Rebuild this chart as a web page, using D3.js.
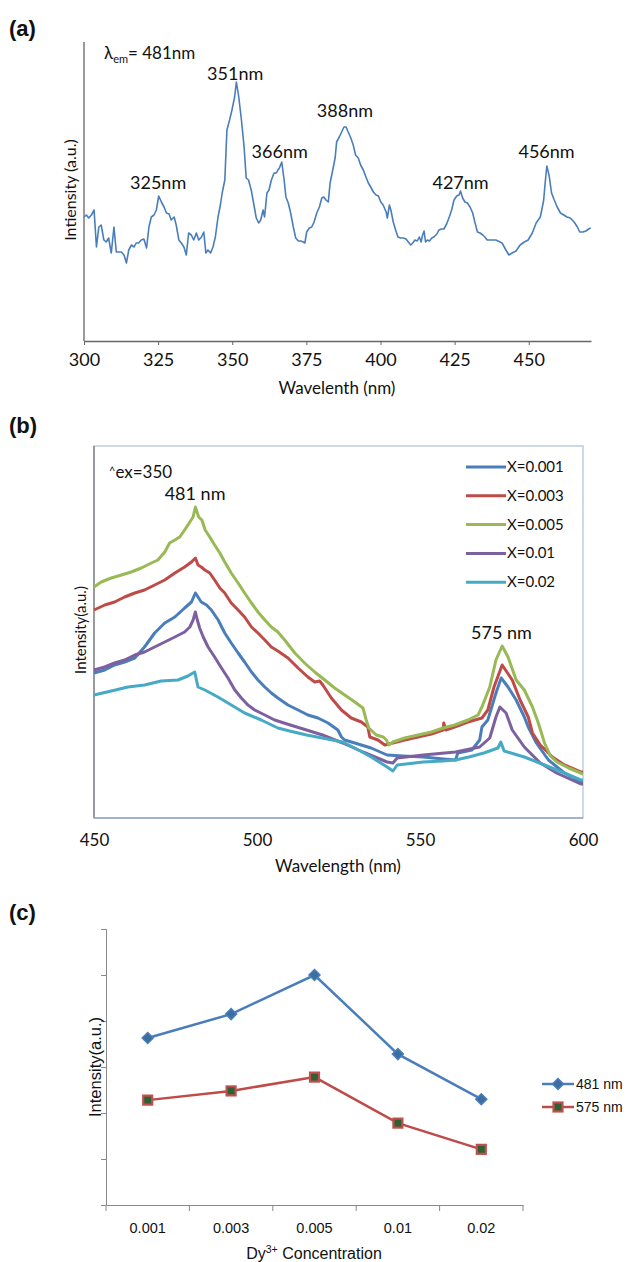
<!DOCTYPE html>
<html><head><meta charset="utf-8">
<script src="https://cdn.jsdelivr.net/npm/d3@7/dist/d3.min.js"></script>
<style>body{margin:0;background:#fff}svg{display:block}</style>
</head><body>
<svg id="c" width="629" height="1262"></svg>
<script>
// ---------- Panel (a): excitation spectrum (wavelength nm, intensity a.u.) ----------
const aSpectrum = [
[300.0,124],[300.8,126],[301.6,123],[302.5,126],[303.4,131],[304.2,94],[305.0,114],[305.8,116],[306.7,101],[307.5,99],
[308.3,103],[309.2,88],[310.1,114],[310.9,89],[311.7,89],[312.6,89],[313.5,86],[314.3,78],[315.1,91],[316.0,96],
[316.9,94],[317.6,98],[318.4,98],[319.3,101],[320.2,102],[321.1,93],[321.9,114],[322.7,124],[323.6,126],[324.4,131],
[325.2,145],[326.1,139],[327.0,134],[327.8,128],[328.7,127],[329.4,121],[330.4,124],[331.1,116],[332.0,101],[332.8,98],
[333.7,94],[334.5,86],[335.3,108],[336.2,106],[337.0,101],[337.9,108],[338.7,101],[339.6,104],[340.4,109],[341.1,88],
[341.8,91],[342.7,88],[343.5,94],[344.3,104],[345.2,124],[346.0,136],[346.6,148],[347.5,161],[348.2,211],[349.1,221],
[349.9,231],[350.8,244],[351.4,259],[352.2,244],[353.1,221],[354.0,194],[354.7,163],[355.5,161],[356.4,151],[357.2,138],
[358.1,123],[358.9,118],[359.6,121],[360.4,131],[360.9,124],[361.7,148],[362.4,151],[363.2,161],[364.1,168],[364.9,168],
[365.4,171],[365.9,173],[366.7,179],[367.5,161],[368.1,144],[368.9,138],[369.7,128],[370.6,114],[371.4,103],[372.3,100],
[373.1,100],[374.0,99],[374.5,98],[375.1,109],[376.0,113],[376.8,114],[377.6,119],[378.5,128],[379.4,134],[380.2,143],
[380.9,144],[381.6,141],[382.4,139],[383.0,158],[383.9,171],[384.7,183],[385.2,199],[386.1,204],[386.9,209],[387.7,214],
[388.4,214],[389.1,209],[390.0,203],[390.8,196],[391.6,186],[392.5,183],[393.3,176],[394.2,171],[395.1,164],[395.9,158],
[396.7,154],[397.6,149],[398.5,146],[399.3,145],[400.1,139],[400.9,136],[401.9,129],[402.3,123],[403.0,136],[403.5,131],
[404.3,119],[405.1,111],[405.9,104],[406.8,103],[407.7,103],[408.6,102],[409.4,99],[410.2,96],[410.9,98],[411.6,101],
[412.4,100],[413.1,104],[413.7,99],[414.2,106],[414.7,110],[415.2,99],[415.8,101],[416.5,100],[417.3,103],[418.0,104],
[419.0,107],[419.7,111],[420.6,112],[421.4,112],[422.3,117],[423.2,124],[424.0,131],[424.8,141],[425.7,145],[426.5,146],
[427.0,150],[427.7,143],[428.5,139],[429.3,138],[430.2,134],[431.1,128],[431.9,118],[432.7,109],[433.6,108],[434.5,106],
[435.2,104],[436.0,101],[436.9,101],[438.9,101],[441.0,98],[442.3,91],[443.3,86],[444.4,88],[445.7,90],[447.1,96],
[448.5,99],[449.8,101],[451.2,108],[452.5,118],[453.9,124],[455.0,140],[455.6,160],[456.1,175],[456.9,165],[457.7,148],
[458.6,141],[459.6,134],[460.7,128],[461.8,126],[462.9,124],[464.0,123],[465.3,119],[466.4,114],[467.2,109],[468.3,109],
[469.3,110],[470.2,112],[470.9,113]
];
const aTicks = [300,325,350,375,400,425,450];
const aPeaks = [["325nm",325],["351nm",351],["366nm",366],["388nm",388],["427nm",427],["456nm",456]];

// ---------- Panel (b): emission spectra for each Dy concentration ----------
const bSeriesNames = ["X=0.001","X=0.003","X=0.005","X=0.01","X=0.02"];
const bX0001 = [[450,145],[453.3,148],[456.3,153],[459.4,156],[462.5,160],[465.5,171],[468.6,185],[471.7,195],[474.8,201],[477.8,210],[479.9,216],[481.1,225],[481.9,221],[482.9,216],[484.5,213],[486,208],[488.1,198],[490.1,185],[492.1,175],[494.2,165],[496.2,156],[498.3,146],[500.3,138],[502.4,131],[504.4,125],[506.4,120],[509.5,113],[512.6,108],[515.6,103],[518.7,100],[521.8,95],[524.8,88],[525.9,81],[526.9,78],[530,75],[535,70],[539.9,63],[544.8,62],[551,61],[557.2,59],[560.9,58],[561.6,65],[565.9,68],[568.3,78],[569,91],[570.8,98],[573.3,125],[574.9,140],[577,131],[579.5,118],[582,101],[583.2,91],[585.7,75],[589.4,58],[594.3,45],[599.3,36],[600,36]];
const bX0003 = [[450,208],[453.3,213],[456.3,216],[459.4,221],[462.5,225],[465.5,228],[468.6,233],[471.7,238],[474.8,245],[477.8,251],[479.9,256],[481.1,260],[481.9,253],[482.9,251],[484,248],[485.5,245],[487,238],[488.6,230],[490.1,225],[492.1,215],[494.2,208],[496.2,201],[498.3,191],[500.3,185],[502.4,178],[504.4,171],[506.4,167],[509.5,160],[512.6,150],[515.6,141],[517.7,136],[519.2,137],[520.2,133],[522.8,120],[525.9,108],[528.9,100],[532,96],[534,91],[534.6,81],[537.1,78],[539.2,73],[541.7,75],[545.3,78],[549.4,81],[553.5,84],[557.1,88],[557.3,95],[557.9,88],[560.6,91],[564.7,96],[569,100],[570.8,108],[572.7,131],[575.2,153],[578.3,138],[580.7,118],[583.2,101],[584.5,85],[586.9,73],[590.6,61],[594.3,53],[599.3,46],[600,46]];
const bX0005 = [[450,231],[452.2,236],[455.3,240],[458.4,243],[461.4,246],[464.5,250],[467.6,255],[469.6,258],[471.7,266],[473.2,275],[474.8,278],[476.3,281],[477.8,288],[479.4,296],[480.4,301],[481.1,311],[481.6,306],[482.1,301],[483.1,298],[484.1,288],[485.5,281],[487,273],[488.6,265],[490.1,256],[492.1,245],[494.2,235],[496.2,225],[498.3,215],[500.3,206],[502.4,198],[504.4,191],[506.4,186],[508.5,178],[511.6,165],[514.6,155],[517.7,146],[520.8,138],[523.8,130],[526.9,123],[530,116],[532.5,110],[533.5,98],[534.3,90],[536.6,83],[538.7,81],[539.7,78],[540.4,73],[541.7,76],[545.3,80],[549.4,83],[553.5,86],[557.1,90],[560.6,93],[564.7,98],[567.8,103],[569,111],[571.4,131],[573.3,158],[575.2,172],[577,161],[579.5,138],[582,128],[584.5,111],[586.3,95],[588.2,75],[590,62],[592,56],[595.6,50],[600,44]];
const bX001 = [[450,148],[453.3,151],[456.3,155],[459.4,158],[462.5,163],[465.5,166],[468.6,171],[471.7,176],[474.8,181],[477.8,186],[479.4,191],[480.4,198],[481.1,206],[481.7,198],[482.4,190],[483.5,181],[485,171],[487,161],[489.1,150],[491.1,140],[493.2,128],[495.2,120],[497.2,113],[499.3,108],[502.4,103],[505.4,98],[510.2,93],[515.2,88],[520.1,83],[526.3,75],[532.5,66],[539.9,56],[541.7,55],[543,60],[551,63],[560.9,66],[568.3,71],[571.4,80],[573.3,101],[574.5,111],[576.4,105],[578.3,88],[582,71],[586.9,55],[591.9,45],[599.3,34],[600,34]];
const bX002 = [[450,123],[455.3,127],[460.4,131],[465.5,133],[470.6,137],[475.8,138],[478.8,142],[480.9,146],[481.9,131],[484,128],[488,121],[491.1,115],[496.2,105],[501.3,98],[506.4,90],[510,87],[515.2,83],[520,80],[526.3,76],[530,70],[535,61],[539.9,51],[541.7,47],[543,53],[551,56],[557,57],[560.9,58],[565,61],[569.6,65],[573.9,70],[574.8,76],[575.8,67],[582,61],[588.2,53],[594.3,45],[599.3,38],[600,38]];
const bTicks = [450,500,550,600];

// ---------- Panel (c): peak intensity vs concentration ----------
const cCategories = ["0.001","0.003","0.005","0.01","0.02"];
const c481 = [3.63,4.15,5.0,3.28,2.30];
const c575 = [2.28,2.48,2.78,1.78,1.21];
const cYTicks = [0,1,2,3,4,5,6];
const cLegend = ["481 nm","575 nm"];

const svg = d3.select("#c");
const LATO = "Lato, 'Open Sans', sans-serif";
const ARIAL = "'Liberation Sans', Arial, sans-serif";

function panelLetter(t, y){
  svg.append("text").attr("x",9).attr("y",y).attr("font-family",ARIAL)
    .attr("font-weight","bold").attr("font-size",22).attr("fill","#111").text(t);
}

// ===== Panel (a) =====
panelLetter("(a)", 36);
const xA = d3.scaleLinear([300, 471], [84, 591]);
const yA = d3.scaleLinear([0, 299], [341, 42]);
const gA = svg.append("g");
const axA = gA.append("g").attr("transform","translate(0,341)")
  .call(d3.axisBottom(xA).tickValues(aTicks).tickSize(4).tickSizeOuter(0));
axA.select(".domain").attr("stroke","#666").attr("stroke-width",1.3);
axA.selectAll(".tick line").attr("stroke","#666");
axA.selectAll(".tick text").attr("y",25).attr("dy",0).attr("font-family",LATO)
  .attr("font-size",18).attr("fill","#111");
gA.append("line").attr("x1",xA(300)).attr("x2",xA(300)).attr("y1",yA(299)).attr("y2",yA(0))
  .attr("stroke","#666").attr("stroke-width",1.3);
gA.append("path").datum(aSpectrum)
  .attr("d", d3.line().x(d=>xA(d[0])).y(d=>yA(d[1])))
  .attr("fill","none").attr("stroke","#4a7ebb").attr("stroke-width",1.6).attr("stroke-linejoin","round");
gA.append("text").attr("x",337).attr("y",394).attr("text-anchor","middle")
  .attr("font-family",LATO).attr("font-size",17).attr("fill","#111").text("Wavelenth (nm)");
gA.append("text").attr("transform","translate(76,190) rotate(-90)").attr("text-anchor","middle")
  .attr("font-family",LATO).attr("font-size",16).attr("fill","#111").text("Intiensity (a.u.)");
const lam = gA.append("text").attr("x",104).attr("y",59).attr("font-family",LATO)
  .attr("font-size",17).attr("fill","#111");
lam.append("tspan").text("λ");
lam.append("tspan").attr("font-size",11).attr("dy",4).text("em");
lam.append("tspan").attr("dy",-4).text("= 481nm");
const peakLabelY = {"325nm":189,"351nm":80,"366nm":158,"388nm":117,"427nm":189,"456nm":158};
gA.selectAll("text.pk").data(aPeaks).join("text").attr("class","pk")
  .attr("x",d=>xA(d[1])).attr("y",d=>peakLabelY[d[0]]).attr("text-anchor","middle")
  .attr("font-family",LATO).attr("font-size",18).attr("fill","#111").text(d=>d[0]);

// ===== Panel (b) =====
panelLetter("(b)", 433);
const xB = d3.scaleLinear([450, 600], [94, 583]);
const yB = d3.scaleLinear([0, 372], [818, 446]);
const gB = svg.append("g");
gB.append("rect").attr("x",xB(450)).attr("y",yB(372)).attr("width",xB(600)-xB(450)).attr("height",yB(0)-yB(372))
  .attr("fill","none").attr("stroke","#b4c6d8").attr("stroke-width",1.3);
gB.append("line").attr("x1",xB(450)).attr("x2",xB(450)).attr("y1",yB(372)).attr("y2",yB(0))
  .attr("stroke","#7a7a7a").attr("stroke-width",1.3);
gB.append("line").attr("x1",xB(450)).attr("x2",xB(600)).attr("y1",yB(0)).attr("y2",yB(0))
  .attr("stroke","#8fa6c0").attr("stroke-width",1.6);
const axB = gB.append("g").attr("transform","translate(0,818)")
  .call(d3.axisBottom(xB).tickValues(bTicks).tickSize(0).tickSizeOuter(0));
axB.select(".domain").remove();
axB.selectAll(".tick text").attr("y",28).attr("dy",0).attr("font-family",LATO)
  .attr("font-size",17).attr("fill","#111");
const bColors = ["#4a7ebb","#be4b48","#98b954","#7d60a0","#46aac5"];
const bData = [bX0001,bX0003,bX0005,bX001,bX002];
const lineB = d3.line().x(d=>xB(d[0])).y(d=>yB(d[1]));
gB.selectAll("path.s").data(bData).join("path").attr("class","s")
  .attr("d",lineB).attr("fill","none").attr("stroke",(d,i)=>bColors[i])
  .attr("stroke-width",3).attr("stroke-linejoin","round");
const legB = gB.selectAll("g.leg").data(bSeriesNames).join("g").attr("class","leg")
  .attr("transform",(d,i)=>`translate(0,${467+i*28.8})`);
legB.append("line").attr("x1",466).attr("x2",506).attr("stroke",(d,i)=>bColors[i]).attr("stroke-width",3);
legB.append("text").attr("x",507).attr("y",5).attr("font-family",LATO).attr("font-size",15)
  .attr("fill","#111").text(d=>d);
const exT = gB.append("text").attr("x",109).attr("y",478).attr("font-family",LATO).attr("font-size",17).attr("fill","#111");
exT.append("tspan").attr("font-size",11).attr("dy",-3).text("^");
exT.append("tspan").attr("dy",3).text("ex=350");
gB.append("text").attr("x",xB(481)).attr("y",500).attr("text-anchor","middle").attr("font-family",LATO)
  .attr("font-size",18).attr("fill","#111").text("481 nm");
gB.append("text").attr("x",xB(575)).attr("y",639).attr("text-anchor","middle").attr("font-family",LATO)
  .attr("font-size",18).attr("fill","#111").text("575 nm");
gB.append("text").attr("x",338).attr("y",872).attr("text-anchor","middle").attr("font-family",LATO)
  .attr("font-size",17).attr("fill","#111").text("Wavelength (nm)");
gB.append("text").attr("transform","translate(86,630) rotate(-90)").attr("text-anchor","middle")
  .attr("font-family",LATO).attr("font-size",15).attr("fill","#111").text("Intensity(a.u.)");

// ===== Panel (c) =====
panelLetter("(c)", 920);
const xC = d3.scaleBand(cCategories, [106, 523]);
const yC = d3.scaleLinear([0, 6], [1205, 929]);
const gC = svg.append("g");
const axCy = gC.append("g").attr("transform","translate(106,0)")
  .call(d3.axisLeft(yC).tickValues(cYTicks).tickSize(5).tickFormat(""));
axCy.select(".domain").attr("stroke","#8a8a8a");
axCy.selectAll(".tick line").attr("stroke","#8a8a8a");
const axCx = gC.append("g").attr("transform","translate(0,1205)")
  .call(d3.axisBottom(xC).tickSize(0).tickSizeOuter(0));
axCx.select(".domain").attr("stroke","#8a8a8a");
axCx.selectAll(".tick text").attr("y",28).attr("dy",0).attr("font-family",ARIAL)
  .attr("font-size",14.5).attr("fill","#111");
const bounds = cCategories.map(c=>xC(c)).concat([xC.range()[1]]);
gC.selectAll("line.xt").data(bounds).join("line").attr("class","xt")
  .attr("x1",d=>d).attr("x2",d=>d).attr("y1",1205).attr("y2",1211).attr("stroke","#8a8a8a");
const cx = c => xC(c) + xC.bandwidth()/2;
const lineC = d3.line().x((d,i)=>cx(cCategories[i])).y(d=>yC(d));
gC.append("path").datum(c481).attr("d",lineC).attr("fill","none").attr("stroke","#4a7ebb").attr("stroke-width",2.5);
gC.append("path").datum(c575).attr("d",lineC).attr("fill","none").attr("stroke","#be4b48").attr("stroke-width",2.5);
const diamond = "M0,-5.5L5.5,0L0,5.5L-5.5,0Z";
gC.selectAll("path.dm").data(c481).join("path").attr("class","dm").attr("d",diamond)
  .attr("transform",(d,i)=>`translate(${cx(cCategories[i])},${yC(d)})`)
  .attr("fill","#3c6e9e").attr("stroke","#4a7ebb").attr("stroke-width",1.5);
gC.selectAll("rect.sq").data(c575).join("rect").attr("class","sq")
  .attr("x",(d,i)=>cx(cCategories[i])-4.5).attr("y",d=>yC(d)-4.5).attr("width",9).attr("height",9)
  .attr("fill","#2f5f34").attr("stroke","#c0504d").attr("stroke-width",2.2);
// legend
const legC = gC.selectAll("g.legc").data(cLegend).join("g").attr("class","legc")
  .attr("transform",(d,i)=>`translate(0,${1084+i*23})`);
legC.append("line").attr("x1",542).attr("x2",574).attr("stroke",(d,i)=>i?"#be4b48":"#4a7ebb").attr("stroke-width",2.5);
legC.filter((d,i)=>i===0).append("path").attr("d",diamond).attr("transform","translate(558,0)")
  .attr("fill","#3c6e9e").attr("stroke","#4a7ebb").attr("stroke-width",1.5);
legC.filter((d,i)=>i===1).append("rect").attr("x",553.5).attr("y",-4.5).attr("width",9).attr("height",9)
  .attr("fill","#2f5f34").attr("stroke","#c0504d").attr("stroke-width",2.2);
legC.append("text").attr("x",576).attr("y",5).attr("font-family",ARIAL).attr("font-size",14)
  .attr("fill","#111").text(d=>d);
const dyT = gC.append("text").attr("x",314).attr("y",1259).attr("text-anchor","middle").attr("font-family",ARIAL)
  .attr("font-size",16).attr("fill","#111");
dyT.append("tspan").text("Dy");
dyT.append("tspan").attr("font-size",10.5).attr("dy",-6).text("3+");
dyT.append("tspan").attr("dy",6).text(" Concentration");
gC.append("text").attr("transform","translate(101,1067) rotate(-90)").attr("text-anchor","middle")
  .attr("font-family",ARIAL).attr("font-size",16.5).attr("fill","#111").text("Intensity(a.u.)");
</script>
</body></html>
